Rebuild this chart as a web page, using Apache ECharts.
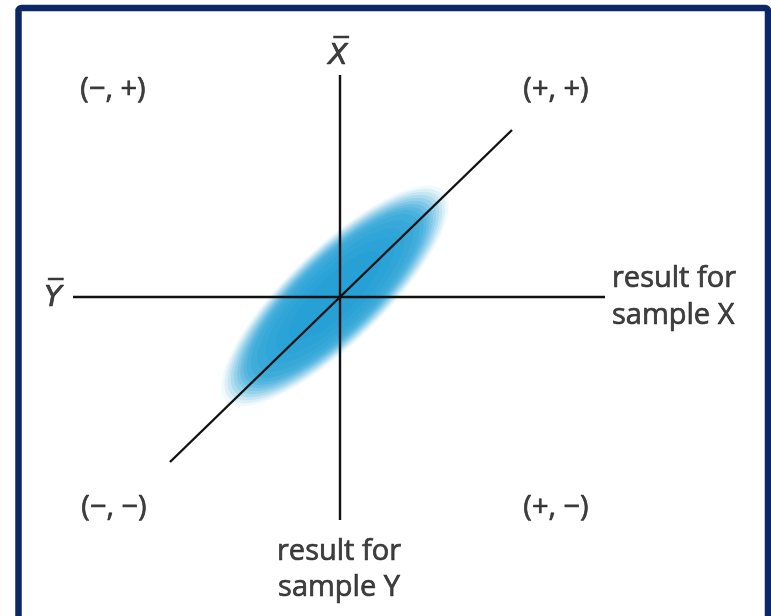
<!DOCTYPE html>
<html>
<head>
<meta charset="utf-8">
<script src="https://cdn.jsdelivr.net/npm/echarts@6/dist/echarts.min.js"></script>
<style>
  html, body { margin: 0; padding: 0; background: #fff; }
  #main { width: 771px; height: 616px; }
</style>
</head>
<body>
<div id="main"></div>
<script>
// coordinates: 1 unit = 1 px, origin where the two mean lines cross
var vLine = [[0, -223], [0, 222]];
var hLine = [[-267, 0], [265, 0]];
var diagLine = [[-170, -165], [172, 167]];

// the blue cloud of results
var ellipseCenter = [-5, 1];
var ellipseAxes = [140, 44];   // semi-major, semi-minor
var ellipseAngle = [44];       // degrees

var quadrantNames = ['(\u2212, +)', '(+, +)', '(\u2212, \u2212)', '(+, \u2212)'];
var quadrantAnchors = [[-227, 207], [216, 207], [-226, -211], [216, -211]];

var meanNames = ['X\u0305', 'Y\u0305'];
var meanAnchors = [[-2, 241], [-287, -1]];

var axisNames = ['result for\nsample X', 'result for\nsample Y'];
var axisAnchors = [[272, 0], [-1, -273]];

var FONT = '"Open Sans", "Noto Sans", sans-serif';
var chart = echarts.init(document.getElementById('main'));

function ellipseLayer(layer) {
  var k = layer[0];
  return {
    type: 'custom',
    coordinateSystem: 'cartesian2d',
    silent: true,
    z: 5,
    data: [ellipseCenter],
    renderItem: function (params, api) {
      var a = ellipseAxes[0] * k, b = ellipseAxes[1] * k;
      var t = ellipseAngle[0] * Math.PI / 180;
      var pts = [];
      for (var i = 0; i < 120; i++) {
        var s = i / 120 * Math.PI * 2;
        var u = a * Math.cos(s), v = b * Math.sin(s);
        pts.push(api.coord([
          ellipseCenter[0] + u * Math.cos(t) - v * Math.sin(t),
          ellipseCenter[1] + u * Math.sin(t) + v * Math.cos(t)
        ]));
      }
      return {
        type: 'polygon',
        shape: { points: pts },
        style: { fill: 'rgba(4,146,210,' + layer[1] + ')' }
      };
    }
  };
}

function lineSeries(d) {
  return {
    type: 'line',
    data: d,
    symbol: 'none',
    silent: true,
    z: 10,
    lineStyle: { color: '#111', width: 2.4 }
  };
}

function labelSeries(names, anchors, font, fontSize, align, lineHeight, italic) {
  return {
    type: 'scatter',
    symbolSize: 0,
    silent: true,
    z: 12,
    data: names.map(function (n, i) { return { name: n, value: anchors[i] }; }),
    label: {
      show: true,
      position: 'inside',
      formatter: '{b}',
      color: '#111',
      fontFamily: font,
      fontSize: fontSize,
      fontStyle: italic ? 'italic' : 'normal',
      align: align,
      verticalAlign: 'middle',
      lineHeight: lineHeight,
      // thickens the strokes a little, the original type is heavier
      textBorderColor: '#111',
      textBorderWidth: 0.7
    }
  };
}

// [scale, opacity] — dense steps near the rim give a soft edge
var layers = [
  [1.08, 0.06], [1.05, 0.08], [1.02, 0.10], [0.99, 0.12], [0.96, 0.14],
  [0.93, 0.15], [0.90, 0.16], [0.87, 0.17], [0.84, 0.17], [0.80, 0.17],
  [0.74, 0.13], [0.66, 0.11], [0.56, 0.09], [0.44, 0.07]
];

chart.setOption({
  animation: false,
  backgroundColor: '#ffffff',
  grid: { left: 0, right: 0, top: 0, bottom: 0 },
  xAxis: { type: 'value', min: -340, max: 431, show: false },
  yAxis: { type: 'value', min: -319, max: 297, show: false },
  graphic: [{
    type: 'rect',
    shape: { x: 18.5, y: 8, width: 749.5, height: 620, r: 3 },
    style: { fill: null, stroke: '#0b2765', lineWidth: 6.5 },
    z: 100
  }],
  series: layers.map(ellipseLayer).concat([
    lineSeries(vLine),
    lineSeries(hLine),
    lineSeries(diagLine),
    labelSeries(quadrantNames, quadrantAnchors, FONT, 29, 'center', 30),
    labelSeries(meanNames, meanAnchors, '"DejaVu Sans", sans-serif', 29, 'center', 34, true),
    labelSeries([axisNames[0]], [axisAnchors[0]], FONT, 29, 'left', 37),
    labelSeries([axisNames[1]], [axisAnchors[1]], FONT, 29, 'center', 36)
  ])
});
</script>
</body>
</html>
